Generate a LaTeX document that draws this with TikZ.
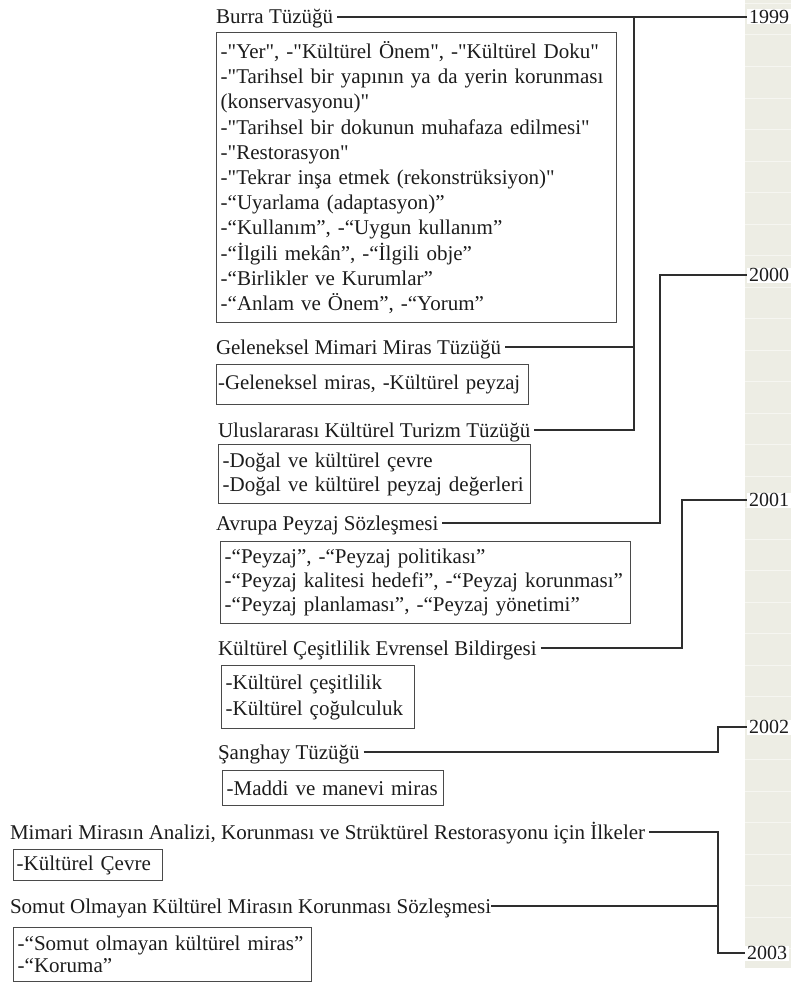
\documentclass[tikz,border=0pt]{standalone}
\usepackage{fontspec}
\setmainfont{Liberation Serif}[Ligatures=TeXOff]
\definecolor{txt}{HTML}{1C1C1C}
\definecolor{boxc}{HTML}{4A4A4A}
\definecolor{lnc}{HTML}{2E2E2E}
\definecolor{strip}{HTML}{EDEDE4}
\definecolor{stripl}{HTML}{F6F6F1}
\tikzset{
  ttl/.style={anchor=west, inner xsep=4pt, inner ysep=0pt, outer sep=0pt,
    text height=17pt, text depth=3pt, font=\fontsize{21}{21}\selectfont, text=txt},
  bx/.style={draw=boxc, line width=1.4pt, anchor=north west, inner xsep=4pt,
    inner ysep=0pt, align=left, text=txt},
  conn/.style={draw=lnc, line width=2.8pt},
  yr/.style={anchor=west, fill=white, inner xsep=2pt, inner ysep=1pt,
    text height=13pt, text depth=0pt, font=\fontsize{20}{20}\selectfont, text=txt},
}
\begin{document}
\begin{tikzpicture}[x=1pt,y=-1pt]
\useasboundingbox (0,0) rectangle (791,982);
% timeline strip
\fill[strip] (745,0) rectangle (791,968);
\foreach \i in {0,...,30} \draw[stripl, line width=1pt] (745,3.5+31.5*\i) -- (791,3.5+31.5*\i);

% years
\node[yr] (y1999) at (747,17) {1999};
\node[yr] (y2000) at (747,275) {2000};
\node[yr] (y2001) at (747,500) {2001};
\node[yr] (y2002) at (747,727) {2002};
\node[yr] (y2003) at (745,953) {2003};

% titles
\node[ttl] (burra) at (212,17) {Burra Tüzüğü};
\node[ttl] (gelen) at (212,347) {Geleneksel Mimari Miras Tüzüğü};
\node[ttl] (ulus) at (214,430) {Uluslararası Kültürel Turizm Tüzüğü};
\node[ttl] (avrupa) at (212,523) {Avrupa Peyzaj Sözleşmesi};
\node[ttl] (kcev) at (214,648) {Kültürel Çeşitlilik Evrensel Bildirgesi};
\node[ttl] (sang) at (214,752) {Şanghay Tüzüğü};
\node[ttl] (mimari) at (6,832) {Mimari Mirasın Analizi, Korunması ve Strüktürel Restorasyonu için İlkeler};
\node[ttl, inner xsep=0pt] (somut) at (10,906) {Somut Olmayan Kültürel Mirasın Korunması Sözleşmesi};

% boxes
\node[bx, minimum width=400pt, minimum height=290pt, text width=392pt,
  font=\fontsize{21}{25.2}\selectfont] (bburra) at (216,32) {%
-"Yer", -"Kültürel Önem", -"Kültürel Doku"\\
-"Tarihsel bir yapının ya da yerin korunması\\
(konservasyonu)"\\
-"Tarihsel bir dokunun muhafaza edilmesi"\\
-"Restorasyon"\\
-"Tekrar inşa etmek (rekonstrüksiyon)"\\
-“Uyarlama (adaptasyon)”\\
-“Kullanım”, -“Uygun kullanım”\\
-“İlgili mekân”, -“İlgili obje”\\
-“Birlikler ve Kurumlar”\\
-“Anlam ve Önem”, -“Yorum”};

\node[bx, minimum width=312pt, minimum height=40pt, text width=309pt, inner xsep=1.5pt,
  font=\fontsize{20.8}{20.8}\selectfont] (bgelen) at (216,364) {-Geleneksel miras, -Kültürel peyzaj};

\node[bx, minimum width=312pt, minimum height=59pt, text width=304pt,
  font=\fontsize{21}{24}\selectfont] (bulus) at (218,444) {-Doğal ve kültürel çevre\\
-Doğal ve kültürel peyzaj değerleri};

\node[bx, minimum width=410pt, minimum height=82pt, text width=402pt,
  font=\fontsize{21}{24}\selectfont] (bavrupa) at (220,541) {-“Peyzaj”, -“Peyzaj politikası”\\
-“Peyzaj kalitesi hedefi”, -“Peyzaj korunması”\\
-“Peyzaj planlaması”, -“Peyzaj yönetimi”};

\node[bx, minimum width=193pt, minimum height=63pt, text width=185pt,
  font=\fontsize{21}{26}\selectfont] (bkcev) at (221,665) {-Kültürel çeşitlilik\\
-Kültürel çoğulculuk};

\node[bx, minimum width=221pt, minimum height=35pt, text width=213pt,
  font=\fontsize{21}{21}\selectfont] (bsang) at (222,770) {-Maddi ve manevi miras};

\node[bx, minimum width=149pt, minimum height=31pt, text width=143pt, inner xsep=3pt,
  font=\fontsize{21}{21}\selectfont] (bmimari) at (13,849) {-Kültürel Çevre};

\node[bx, minimum width=298pt, minimum height=54pt, text width=290pt,
  font=\fontsize{21}{22}\selectfont] (bsomut) at (13,927) {-“Somut olmayan kültürel miras”\\
-“Koruma”};

% junctions
\coordinate (j99) at (634,17);
\coordinate (j00) at (660,275);
\coordinate (j01) at (682,500);
\coordinate (j02) at (718,727);
\coordinate (j03) at (718,953);

% connectors
\draw[conn] (burra.east) -- (y1999.west);
\draw[conn] (gelen.east) -- (gelen.east -| j99);
\draw[conn] (ulus.east) -| (j99);
\draw[conn] (avrupa.east) -| (j00) -- (y2000.west);
\draw[conn] (kcev.east) -| (j01) -- (y2001.west);
\draw[conn] (sang.east) -| (j02) -- (y2002.west);
\draw[conn] (mimari.east) -| (j03) -- (y2003.west);
\draw[conn] (somut.east) -- (somut.east -| j03);
\end{tikzpicture}
\end{document}
